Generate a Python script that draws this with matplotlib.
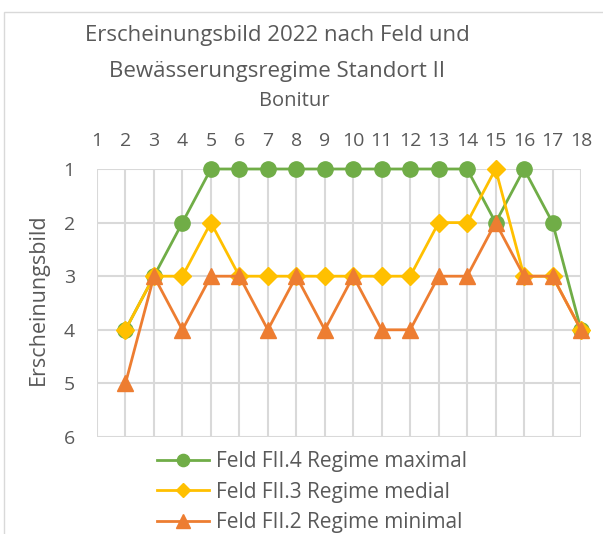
import matplotlib
matplotlib.use("Agg")
import matplotlib.pyplot as plt
from matplotlib.patches import Rectangle

plt.rcParams['font.family'] = ['Open Sans', 'DejaVu Sans']

bonitur = list(range(1, 19))
x_data = list(range(2, 19))
feld4_max = [4, 3, 2, 1, 1, 1, 1, 1, 1, 1, 1, 1, 1, 2, 1, 2, 4]
feld3_med = [4, 3, 3, 2, 3, 3, 3, 3, 3, 3, 3, 2, 2, 1, 3, 3, 4]
feld2_min = [5, 3, 4, 3, 3, 4, 3, 4, 3, 4, 4, 3, 3, 2, 3, 3, 4]
labels = ["Feld FII.4 Regime maximal", "Feld FII.3 Regime medial", "Feld FII.2 Regime minimal"]
y_ticks = [1, 2, 3, 4, 5, 6]

txt = '#595959'
grid = '#d9d9d9'

fig = plt.figure(figsize=(6.03, 5.34), dpi=100)
fig.patches.append(Rectangle((4/603, -0.1), 2, 1 - 12/534 + 0.1, transform=fig.transFigure,
                             fill=False, edgecolor=grid, linewidth=1))
ax = fig.add_axes([97/603, 1 - 437/534, 484/603, 268/534])

l1, = ax.plot(x_data, feld4_max, color='#70AD47', lw=2, marker='o', ms=11, zorder=3)
l2, = ax.plot(x_data, feld3_med, color='#FFC000', lw=2, marker='D', ms=9, zorder=4)
l3, = ax.plot(x_data, feld2_min, color='#ED7D31', lw=2, marker='^', ms=12, zorder=5)

ax.set_xlim(1, 18)
ax.set_ylim(6, 1)
ax.set_xticks(bonitur)
ax.set_yticks(y_ticks)
ax.xaxis.tick_top()
ax.xaxis.set_label_position('top')
ax.grid(True, color=grid, lw=1.5, zorder=0)
for s in ax.spines.values():
    s.set_visible(False)
ax.tick_params(length=0, labelsize=14, colors=txt)
ax.tick_params(axis='x', pad=14)
ax.tick_params(axis='y', pad=16)
for lab in ax.get_xticklabels() + ax.get_yticklabels():
    lab.set_color(txt)
for l in (l1, l2, l3):
    l.set_clip_on(False)

fig.text(277/603, 1 - 36/534, "Erscheinungsbild 2022 nach Feld und", ha='center', va='center',
         fontsize=16, color=txt)
fig.text(277/603, 1 - 71/534, "Bewässerungsregime Standort II", ha='center', va='center',
         fontsize=16, color=txt)
fig.text(294/603, 1 - 101/534, "Bonitur", ha='center', va='center', fontsize=14.5, color=txt)
fig.text(38/603, 1 - 299/534, "Erscheinungsbild", ha='center', va='center', rotation=90,
         fontsize=15.5, color=txt)

leg = fig.legend([l1, l2, l3], labels, loc='upper left', bbox_to_anchor=(157/603, 1 - 451/534),
                 frameon=False, fontsize=15, handlelength=2.5, labelspacing=0.46,
                 handletextpad=0.35, borderaxespad=0, borderpad=0, markerscale=0.8)
for t in leg.get_texts():
    t.set_color(txt)

fig.savefig("out.png", dpi=100)
